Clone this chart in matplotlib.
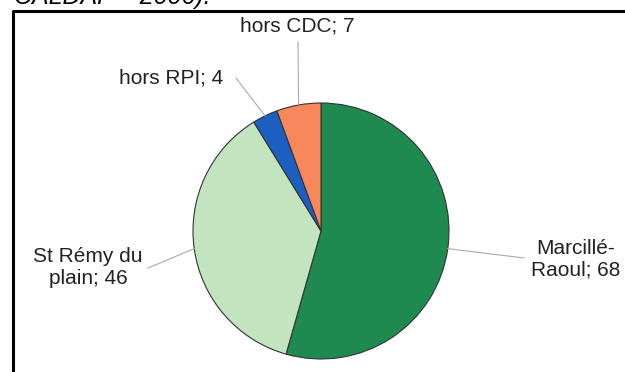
import numpy as np
import matplotlib.pyplot as plt

plt.rcParams['font.family'] = ['Liberation Sans', 'DejaVu Sans']

labels = ['Marcillé-\nRaoul', 'St Rémy du\nplain', 'hors RPI', 'hors CDC']
values = [68, 46, 4, 7]
colors = ['#1f8a4f', '#c2e5c0', '#1b5fc2', '#f8875c']

# label anchor positions (pixels from top-left)
label_pos = [(576, 259), (88, 268), (171, 78), (297, 26)]
line_end = [(524, 258), (148, 268), (236, 78), (298, 42)]

W, H = 625, 372
fig = plt.figure(figsize=(W / 100, H / 100), dpi=100)
ax = fig.add_axes([0, 0, 1, 1])

cx, cy, r = 321, H - 231, 128
wedges, _ = ax.pie(values, colors=colors, startangle=90, counterclock=False,
                   center=(cx, cy), radius=r, frame=True,
                   wedgeprops=dict(edgecolor='#333333', linewidth=0.8))
ax.set_xlim(0, W)
ax.set_ylim(0, H)
ax.axis('off')

for w, lab, v, (tx, ty), (lx, ly) in zip(wedges, labels, values, label_pos, line_end):
    ang = np.deg2rad((w.theta1 + w.theta2) / 2)
    px, py = cx + r * np.cos(ang), cy + r * np.sin(ang)
    ax.plot([px, lx], [py, H - ly], color='#aaaaaa', lw=0.8)
    ax.text(tx, H - ty, f'{lab}; {v}', ha='center', va='center', fontsize=15,
            color='#222222', linespacing=1.2)

# frame border
ax.plot([13, 13, W], [0, H - 11, H - 11], color='black', lw=2.2, solid_capstyle='butt')

# cut-off caption from the page above
ax.text(14, H - 9, 'CALDAF – 2006).', fontsize=18, fontstyle='italic',
        ha='left', va='bottom', color='black')

fig.savefig('out.png', dpi=100)
